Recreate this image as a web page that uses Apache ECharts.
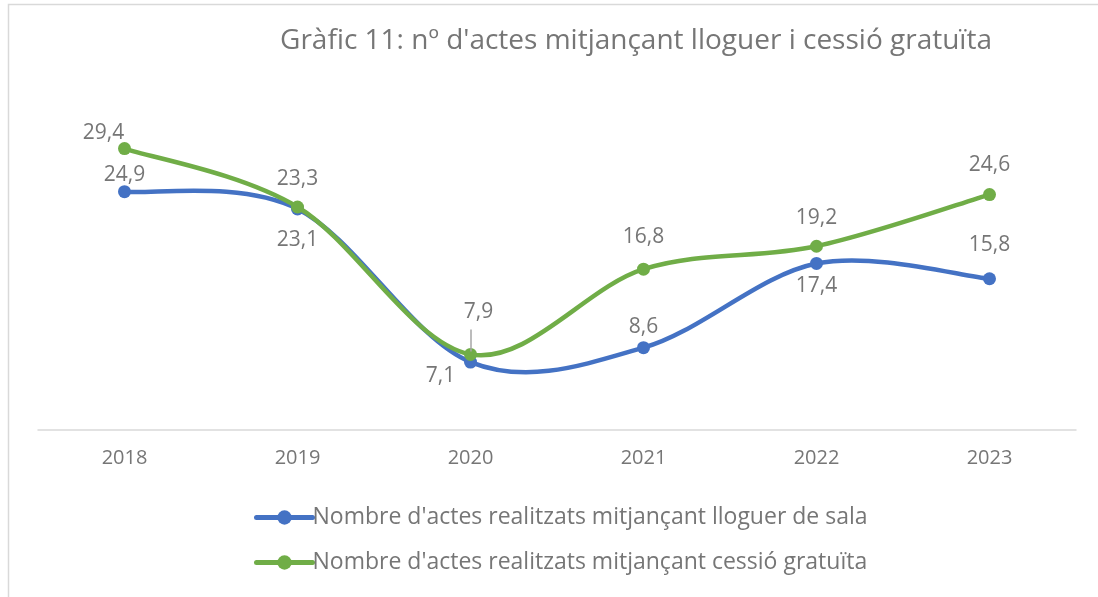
<!DOCTYPE html>
<html><head><meta charset="utf-8">
<script src="https://cdn.jsdelivr.net/npm/echarts@6/dist/echarts.min.js"></script>
<style>html,body{margin:0;padding:0;background:#fff}#c{width:1098px;height:597px}</style>
</head><body><div id="c"></div>
<script>
const years = ['2018','2019','2020','2021','2022','2023'];
const lloguer = [24.9, 23.1, 7.1, 8.6, 17.4, 15.8];
const cessio = [29.4, 23.3, 7.9, 16.8, 19.2, 24.6];
const seriesNames = ["Nombre d'actes realitzats mitjançant lloguer de sala", "Nombre d'actes realitzats mitjançant cessió gratuïta"];
const titleText = "Gràfic 11: nº d'actes mitjançant lloguer i cessió gratuïta";

const FONT = '"Open Sans"';
const GREY = '#767676';
const BLUE = '#4472C4', GREEN = '#70AD47';
const fmt = v => String(v).replace('.', ',');

// label offsets (px) from each marker centre — styling only
const blueOff  = [[0,-17],[0,31],[-30,14],[0,-21],[0,23],[0,-34]];
const greenOff = [[-21,-16],[0,-28],[8,-42],[0,-32],[0,-28],[0,-30]];

function build(vals, off){
  return vals.map((v,i)=>({value:v, label:{position:'inside', offset:off[i]}}));
}

// Excel-like (Catmull-Rom) smooth curve drawn through the axis scales
function smoothCurve(vals, color){
  return function(params, api){
    if (params.dataIndex !== 0) return null;
    const pts = vals.map((v,i)=>api.coord([i, v]));
    let d = 'M' + pts[0][0] + ' ' + pts[0][1];
    for (let i=0;i<pts.length-1;i++){
      const p0 = pts[Math.max(i-1,0)], p1 = pts[i], p2 = pts[i+1], p3 = pts[Math.min(i+2,pts.length-1)];
      const c1 = [p1[0]+(p2[0]-p0[0])/6, p1[1]+(p2[1]-p0[1])/6];
      const c2 = [p2[0]-(p3[0]-p1[0])/6, p2[1]-(p3[1]-p1[1])/6];
      d += ' C' + c1[0]+' '+c1[1]+' '+c2[0]+' '+c2[1]+' '+p2[0]+' '+p2[1];
    }
    return {type:'path', shape:{pathData:d},
      style:{fill:null, stroke:color, lineWidth:4.5, lineCap:'round', lineJoin:'round'}};
  };
}

const chart = echarts.init(document.getElementById('c'), null, {renderer:'canvas'});
const labelStyle = {show:true, color:GREY, fontSize:21, fontFamily:FONT, formatter:p=>fmt(p.value)};

chart.setOption({
  animation:false,
  backgroundColor:'#fff',
  title:{text:titleText, left:631, top:22, textAlign:'center',
    textStyle:{color:GREY, fontSize:28, fontWeight:'normal', fontFamily:FONT}},
  grid:{left:38, right:22, top:95, bottom:167},
  xAxis:{type:'category', data:years, boundaryGap:true,
    axisLine:{lineStyle:{color:'#d9d9d9', width:1.5}}, axisTick:{show:false},
    axisLabel:{color:GREY, fontSize:20, fontFamily:FONT, margin:18}},
  yAxis:{type:'value', min:0, max:35, show:false, splitLine:{show:false}},
  legend:{orient:'vertical', left:249, top:501, itemWidth:56, itemHeight:18, itemGap:22,
    data:seriesNames,
    lineStyle:{width:5, opacity:1, cap:'round'},
    textStyle:{color:GREY, fontSize:23, fontFamily:FONT, padding:[0,0,0,-5]}},
  graphic:[{type:'rect', shape:{x:8.5,y:4.5,width:1200,height:700},
    style:{fill:null, stroke:'#d9d9d9', lineWidth:1.5}, silent:true, z:-1}],
  series:[
    {type:'custom', name:'curve-blue', data:lloguer.map((v,i)=>[i,v]), renderItem:smoothCurve(lloguer, BLUE),
      silent:true, z:1, encode:{x:0,y:1}},
    {type:'custom', name:'curve-green', data:cessio.map((v,i)=>[i,v]), renderItem:smoothCurve(cessio, GREEN),
      silent:true, z:3, encode:{x:0,y:1}},
    {name:seriesNames[0], type:'line', data:build(lloguer, blueOff),
      color:BLUE, lineStyle:{width:0, opacity:0}, symbol:'circle', symbolSize:13,
      label:labelStyle, z:2},
    {name:seriesNames[1], type:'line', data:build(cessio, greenOff),
      color:GREEN, lineStyle:{width:0, opacity:0}, symbol:'circle', symbolSize:13,
      label:labelStyle, z:4,
      markLine:{silent:true, symbol:'none', label:{show:false},
        lineStyle:{color:'#a6a6a6', type:'solid', width:1.5},
        data:[[{coord:['2020', 8.2]}, {coord:['2020', 10.5]}]]}}
  ]
});
</script></body></html>
